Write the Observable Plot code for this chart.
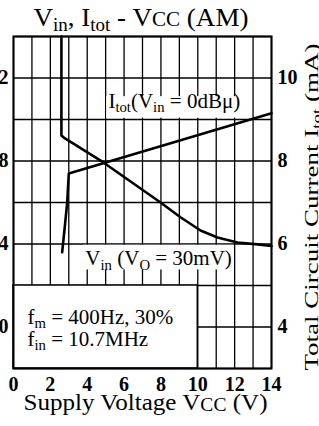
<!DOCTYPE html>
<html><head><meta charset="utf-8">
<script src="https://cdn.jsdelivr.net/npm/d3@7"></script>
<script src="https://cdn.jsdelivr.net/npm/@observablehq/plot@0.6"></script>
<style>
html,body{margin:0;padding:0;background:#fff;}
#chart{width:319px;height:426px;overflow:hidden;}
</style></head><body><div id="chart"></div>
<script>
// ---- data ----
// Vin (VO = 30mV) curve, left axis (dBµ) vs supply voltage (V)
const vinVcc = [2.6, 2.6, 2.73, 4.88, 7.98, 9.06, 10.15, 11.07, 12.15, 13.24, 14];
const vinDbu = [14, 9.23, 9.13, 7.93, 6.0, 5.29, 4.65, 4.31, 4.07, 3.98, 3.9];
// Itot (Vin = 0dBµ) curve, right axis (mA) vs supply voltage (V)
const itotVcc = [2.64, 2.78, 2.91, 3.0, 14];
const itotMa = [5.80, 6.40, 6.98, 7.70, 9.15];
// ticks / grid
const xTicks = [0, 2, 4, 6, 8, 10, 12, 14];
const leftTicks = [0, 4, 8, 12];
const rightTicksMa = [4, 6, 8, 10];
const gridX = [0, 1, 2, 3, 4, 5, 6, 7, 8, 9, 10, 11, 12, 13, 14];
const gridY = [-2, 0, 2, 4, 6, 8, 10, 12, 14];
// texts
const titleText = "V_{in}, I_{tot} - V~{CC} (AM)";
const xLabel = "Supply Voltage V~{CC} (V)";
const yRightLabel = "Total Circuit Current I_{tot} (mA)";
const itotLabel = "I_{tot}(V_{in} = 0dBμ)";
const vinLabel = "V_{in} (V_{O} = 30mV)";
const condLines = ["f_{m} = 400Hz, 30%", "f_{in} = 10.7MHz"];

// right axis (mA) shares the frame with the left axis (dBµ): 4 mA ↔ 0, 10 mA ↔ 12
const maToLeft = ma => 2 * ma - 8;
const leftToMa = v => (v + 8) / 2;

const vinData = vinVcc.map((v, i) => ({vcc: v, val: vinDbu[i]}));
const itotData = itotVcc.map((v, i) => ({vcc: v, val: maToLeft(itotMa[i])}));

const FONT = "'Liberation Serif','Times New Roman',serif";
const INK = "#000";

const plot = Plot.plot({
  width: 319, height: 426,
  marginTop: 36, marginBottom: 58, marginLeft: 13, marginRight: 48,
  x: {domain: [0, 14]},
  y: {domain: [-2, 14]},
  style: {fontFamily: FONT, fontSize: "20px", background: "white", color: INK},
  marks: [
    Plot.ruleX(gridX, {stroke: INK, strokeWidth: 1.3}),
    Plot.ruleY(gridY, {stroke: INK, strokeWidth: 1.3}),
    // condition box (lower left)
    Plot.rect([{a: 0, b: 10, c: -2, d: 2}], {x1: "a", x2: "b", y1: "c", y2: "d", fill: "white", stroke: INK, strokeWidth: 1.5}),
    // label backgrounds
    Plot.rect([{a: 5.06, b: 12.94, c: 10.06, d: 11.1}], {x1: "a", x2: "b", y1: "c", y2: "d", fill: "white"}),
    Plot.rect([{a: 3.8, b: 11.94, c: 2.75, d: 3.94}], {x1: "a", x2: "b", y1: "c", y2: "d", fill: "white"}),
    // curves
    Plot.line(vinData, {x: "vcc", y: "val", stroke: INK, strokeWidth: 2.6}),
    Plot.line(itotData, {x: "vcc", y: "val", stroke: INK, strokeWidth: 2.6}),
    Plot.frame({stroke: INK, strokeWidth: 2}),
    // axes
    Plot.axisX(xTicks, {anchor: "bottom", tickSize: 0, tickPadding: 8, fontSize: 20, fontWeight: "bold", label: null}),
    Plot.axisY(leftTicks, {anchor: "left", tickSize: 0, tickPadding: 5, fontSize: 20, fontWeight: "bold", label: null}),
    Plot.axisY(rightTicksMa.map(maToLeft), {anchor: "right", tickSize: 0, tickPadding: 6, fontSize: 20, fontWeight: "bold", tickFormat: d => String(leftToMa(d)), label: null}),
    // in-plot labels
    Plot.text([itotLabel], {x: 5.15, y: 10.9, text: d => d, textAnchor: "start", lineAnchor: "middle", fontSize: 21}),
    Plot.text([vinLabel], {x: 3.9, y: 3.29, text: d => d, textAnchor: "start", lineAnchor: "middle", fontSize: 21}),
    Plot.text([condLines[0]], {x: 0.76, y: 0.49, text: d => d, textAnchor: "start", lineAnchor: "middle", fontSize: 21}),
    Plot.text([condLines[1]], {x: 0.76, y: -0.57, text: d => d, textAnchor: "start", lineAnchor: "middle", fontSize: 21}),
    // title and axis titles
    Plot.text([titleText], {frameAnchor: "top", textAnchor: "middle", lineAnchor: "middle", dx: -1.5, dy: -19.3, text: d => d, fontSize: 26}),
    Plot.text([xLabel], {frameAnchor: "bottom", textAnchor: "middle", lineAnchor: "middle", dx: 3, dy: 34.3, text: d => d, fontSize: 24}),
    Plot.text([yRightLabel], {frameAnchor: "right", textAnchor: "middle", lineAnchor: "middle", rotate: -90, dx: 40, dy: 4.5, text: d => d, fontSize: 19})
  ]
});

document.getElementById("chart").appendChild(plot);

// run lengths of the long titles as they appear in the reference
const textLengths = new Map([[titleText, 215], [xLabel, 244], [yRightLabel, 327]]);

// turn _{..} into lowered subscripts and ~{..} into small letters on the baseline
function richify(el, s) {
  while (el.firstChild) el.removeChild(el.firstChild);
  const re = /([_~])\{([^}]*)\}/g;
  let last = 0, m, shift = 0;
  const add = (str, kind) => {
    const ts = document.createElementNS("http://www.w3.org/2000/svg", "tspan");
    ts.textContent = str;
    let target = 0, size = 1;
    if (kind === "_") { target = 0.2; size = 0.7; }
    else if (kind === "~") { target = 0.03; size = 0.78; }
    const dy = target - shift;
    if (Math.abs(dy) > 1e-6) ts.setAttribute("dy", (dy / size).toFixed(3) + "em");
    if (size !== 1) ts.setAttribute("font-size", (size * 100) + "%");
    shift = target;
    el.appendChild(ts);
  };
  while ((m = re.exec(s))) {
    if (m.index > last) add(s.slice(last, m.index), "");
    add(m[2], m[1]);
    last = re.lastIndex;
  }
  if (last < s.length) add(s.slice(last), "");
}
plot.querySelectorAll("text").forEach(t => {
  const s = t.textContent;
  if (/[_~]\{/.test(s)) richify(t, s);
  if (textLengths.has(s)) {
    t.setAttribute("textLength", textLengths.get(s));
    t.setAttribute("lengthAdjust", "spacingAndGlyphs");
  }
});
</script>
</body></html>
